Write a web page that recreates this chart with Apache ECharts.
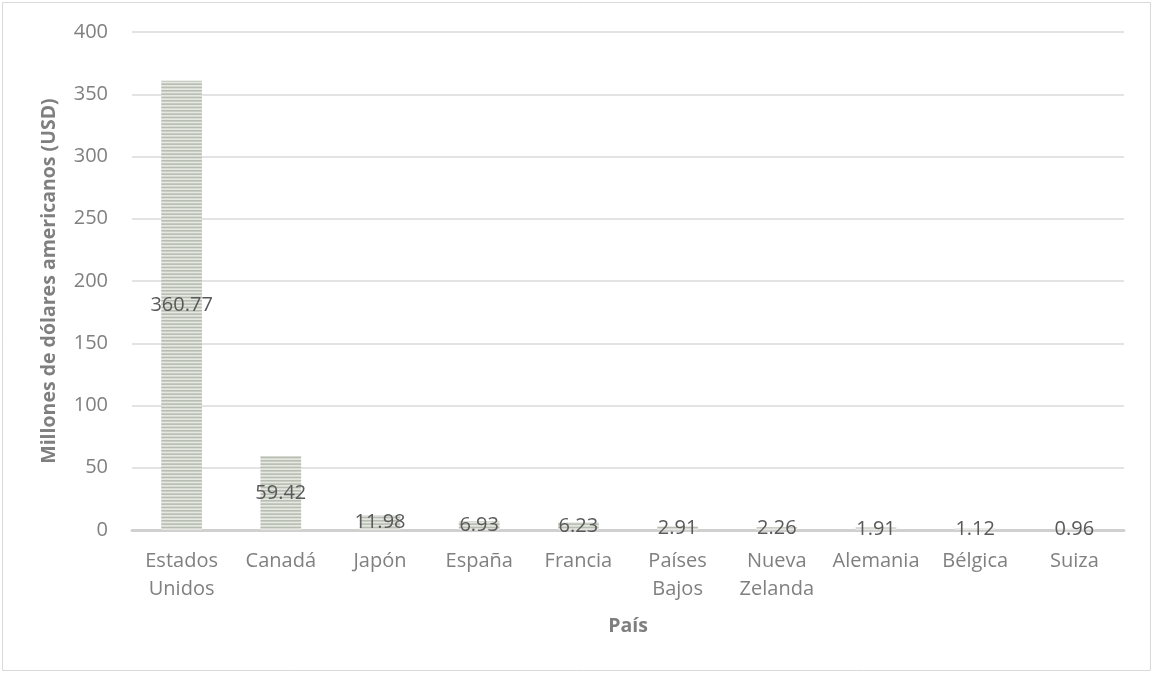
<!DOCTYPE html>
<html>
<head>
<meta charset="utf-8">
<script src="https://cdn.jsdelivr.net/npm/echarts@6/dist/echarts.min.js"></script>
<style>
  html, body { margin: 0; padding: 0; background: #ffffff; }
  #chart { width: 1153px; height: 673px; }
</style>
</head>
<body>
<div id="chart"></div>
<script>
// Países y montos en millones de USD
const paises = ['Estados\nUnidos', 'Canadá', 'Japón', 'España', 'Francia', 'Países\nBajos', 'Nueva\nZelanda', 'Alemania', 'Bélgica', 'Suiza'];
const montos = [360.77, 59.42, 11.98, 6.93, 6.23, 2.91, 2.26, 1.91, 1.12, 0.96];
const ticksY = [0, 50, 100, 150, 200, 250, 300, 350, 400];

// Relleno rayado horizontal para las barras
function rayado() {
  const c = document.createElement('canvas');
  c.width = 10; c.height = 10;
  const ctx = c.getContext('2d');
  ctx.fillStyle = '#e5e7e2';
  ctx.fillRect(0, 0, 10, 10);
  ctx.fillStyle = '#b7beb1';
  for (let i = 0; i < 3; i++) {
    ctx.fillRect(0, i * 10 / 3, 10, 1.6);
  }
  return c;
}

const fuente = '"Open Sans", "Noto Sans", sans-serif';
const chart = echarts.init(document.getElementById('chart'), null, { renderer: 'canvas' });

chart.setOption({
  animation: false,
  backgroundColor: '#ffffff',
  textStyle: { fontFamily: fuente },
  graphic: [{
    type: 'rect',
    shape: { x: 2.5, y: 2.5, width: 1148, height: 668 },
    style: { fill: 'none', stroke: '#d9d9d9', lineWidth: 1 },
    silent: true
  }],
  grid: { left: 132, right: 29, top: 32, bottom: 143, containLabel: false },
  xAxis: {
    type: 'category',
    data: paises,
    name: 'País',
    nameLocation: 'middle',
    nameGap: 86,
    nameTextStyle: { fontFamily: fuente, fontSize: 19.5, fontWeight: 'bold', color: '#7f7f7f' },
    axisLine: { show: true, lineStyle: { color: '#d0d0d0', width: 3 } },
    axisTick: { show: false },
    axisLabel: { interval: 0, fontFamily: fuente, fontSize: 20, color: '#808080', lineHeight: 28, margin: 17 }
  },
  yAxis: {
    type: 'value',
    min: ticksY[0],
    max: ticksY[ticksY.length - 1],
    interval: 50,
    name: 'Millones de dólares americanos (USD)',
    nameLocation: 'middle',
    nameGap: 73,
    nameTextStyle: { fontFamily: fuente, fontSize: 19.5, fontWeight: 'bold', color: '#7f7f7f' },
    axisLine: { show: false },
    axisTick: { show: false },
    axisLabel: { fontFamily: fuente, fontSize: 20, color: '#808080', margin: 24 },
    splitLine: { show: true, lineStyle: { color: '#e3e3e3', width: 2 } }
  },
  series: [{
    type: 'bar',
    data: montos,
    barCategoryGap: '59%',
    itemStyle: { color: { image: rayado(), repeat: 'repeat' } },
    label: {
      show: true,
      position: 'inside',
      fontFamily: fuente,
      fontSize: 20,
      color: '#595959',
      formatter: p => p.value.toFixed(2)
    }
  }]
});
</script>
</body>
</html>
